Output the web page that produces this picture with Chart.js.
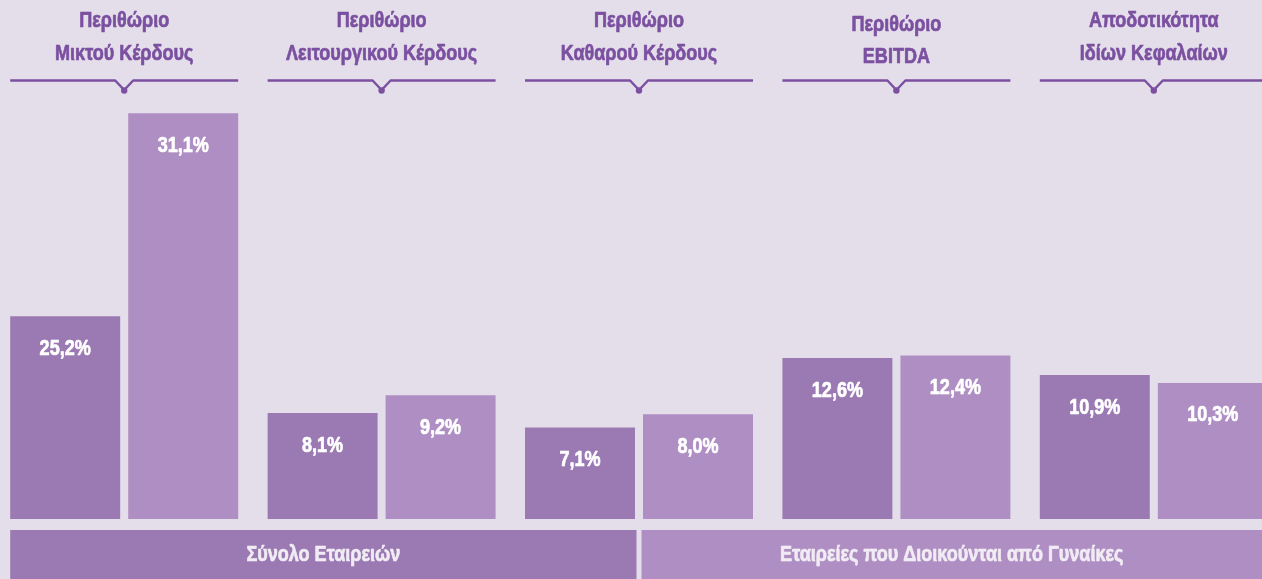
<!DOCTYPE html>
<html><head><meta charset="utf-8">
<script src="https://cdn.jsdelivr.net/npm/chart.js@4.4.1/dist/chart.umd.min.js"></script>
<style>
html,body{margin:0;padding:0;background:#e4deea;overflow:hidden;width:1262px;height:579px;}
#wrap{position:absolute;left:-10px;top:0;width:1310px;height:579px;}
canvas{display:block;}
</style></head><body>
<div id="wrap"><canvas id="c" width="1310" height="579"></canvas></div>
<script>
// ---- data ----
const categories = [
  ['Περιθώριο','Μικτού Κέρδους'],
  ['Περιθώριο','Λειτουργικού Κέρδους'],
  ['Περιθώριο','Καθαρού Κέρδους'],
  ['Περιθώριο','EBITDA'],
  ['Αποδοτικότητα','Ιδίων Κεφαλαίων']
];
const seriesNames = ['Σύνολο Εταιρειών', 'Εταιρείες που Διοικούνται από Γυναίκες'];
// printed values (%)
const totalPct = [25.2, 8.1, 7.1, 12.6, 10.9];
const womenPct = [31.1, 9.2, 8.0, 12.4, 10.3];
// bar lengths as drawn in the picture (same % units)
const totalBars = [15.5, 8.1, 7.0, 12.3, 11.0];
const womenBars = [31.0, 9.45, 8.0, 12.5, 10.4];

// ---- styles ----
const COLORS = { total: '#9b7ab3', women: '#af8fc3', head: '#7b50a0', bandText: '#f1ecf4', label: '#ffffff' };

function hasFont(name){
  const c = document.createElement('canvas').getContext('2d');
  const t = 'Μικτού Κέρδους 25,2% EBITDA';
  c.font = 'bold 40px monospace'; const a = c.measureText(t).width;
  c.font = `bold 40px "${name}", monospace`; const b = c.measureText(t).width;
  c.font = 'bold 40px serif'; const a2 = c.measureText(t).width;
  c.font = `bold 40px "${name}", serif`; const b2 = c.measureText(t).width;
  return a !== b || a2 !== b2;
}
const FONT = hasFont('Liberation Sans Narrow')
  ? { family: '"Liberation Sans Narrow"', sx: 1 }
  : { family: '"Liberation Sans", Arial, sans-serif', sx: 0.82 };

const fmt = v => v.toFixed(1).replace('.', ',') + '%';

function drawText(ctx, txt, x, y, size, color){
  ctx.save();
  ctx.translate(x, y);
  ctx.scale(FONT.sx, 1);
  ctx.font = `bold ${size}px ${FONT.family}`;
  ctx.fillStyle = color;
  ctx.strokeStyle = color;
  ctx.lineWidth = 0.7;
  ctx.lineJoin = 'round';
  ctx.textAlign = 'center';
  ctx.textBaseline = 'middle';
  ctx.fillText(txt, 0, 0);
  ctx.strokeText(txt, 0, 0);
  ctx.restore();
}

const pctLabels = [totalPct, womenPct];

const decor = {
  id: 'decor',
  afterDatasetsDraw(chart){
    const ctx = chart.ctx;
    const m0 = chart.getDatasetMeta(0), m1 = chart.getDatasetMeta(1);
    // value labels inside bars
    [m0, m1].forEach((meta, di) => {
      meta.data.forEach((el, i) => {
        drawText(ctx, fmt(pctLabels[di][i]), el.x, el.y + 32.5, 22, COLORS.label);
      });
    });
    // headers with notched rule
    const xs = chart.scales.x;
    categories.forEach((cat, i) => {
      const c = xs.getPixelForValue(i);
      const a = m0.data[i], b = m1.data[i];
      const left = a.x - a.width / 2;
      let right = b.x + b.width / 2;
      if (i === categories.length - 1) right = chart.width;
      const dy = i === 3 ? 3.5 : 0;
      drawText(ctx, cat[0], c, 21 + dy, 22, COLORS.head);
      drawText(ctx, cat[1], c, 53.5 + dy, 22, COLORS.head);
      ctx.save();
      ctx.strokeStyle = COLORS.head;
      ctx.lineWidth = 2.5;
      ctx.lineJoin = 'round';
      ctx.beginPath();
      ctx.moveTo(left, 80.5);
      ctx.lineTo(c - 9, 80.5);
      ctx.lineTo(c, 90);
      ctx.lineTo(c + 9, 80.5);
      ctx.lineTo(right, 80.5);
      ctx.stroke();
      ctx.fillStyle = COLORS.head;
      ctx.beginPath();
      ctx.arc(c, 90.5, 3.2, 0, Math.PI * 2);
      ctx.fill();
      ctx.restore();
    });
    // legend bands at bottom
    const mid = xs.getPixelForValue(2);
    const l0 = m0.data[0].x - m0.data[0].width / 2;
    const bands = [
      { x0: l0, x1: mid - 2.5, color: COLORS.total, text: seriesNames[0] },
      { x0: mid + 2.5, x1: chart.width, color: COLORS.women, text: seriesNames[1] }
    ];
    const visRight = 10 + 1262; // canvas is shifted 10px left
    bands.forEach((bd, k) => {
      ctx.fillStyle = bd.color;
      ctx.fillRect(bd.x0, 530, bd.x1 - bd.x0, 49);
      const cx = k === 1 ? (bd.x0 + visRight) / 2 : (bd.x0 + bd.x1) / 2;
      drawText(ctx, bd.text, cx, 554.5, 22, COLORS.bandText);
    });
  }
};

new Chart(document.getElementById('c'), {
  type: 'bar',
  data: {
    labels: categories,
    datasets: [
      { label: seriesNames[0], data: totalBars, backgroundColor: COLORS.total, borderWidth: 0,
        categoryPercentage: 0.9169, barPercentage: 0.932 },
      { label: seriesNames[1], data: womenBars, backgroundColor: COLORS.women, borderWidth: 0,
        categoryPercentage: 0.9169, barPercentage: 0.932 }
    ]
  },
  options: {
    responsive: false,
    animation: false,
    layout: { padding: { left: 5.5, right: 17.5, top: 61, bottom: 60 } },
    scales: {
      x: { display: false },
      y: { display: false, min: 0, max: 35 }
    },
    plugins: { legend: { display: false }, tooltip: { enabled: false } }
  },
  plugins: [decor]
});
</script>
</body></html>
